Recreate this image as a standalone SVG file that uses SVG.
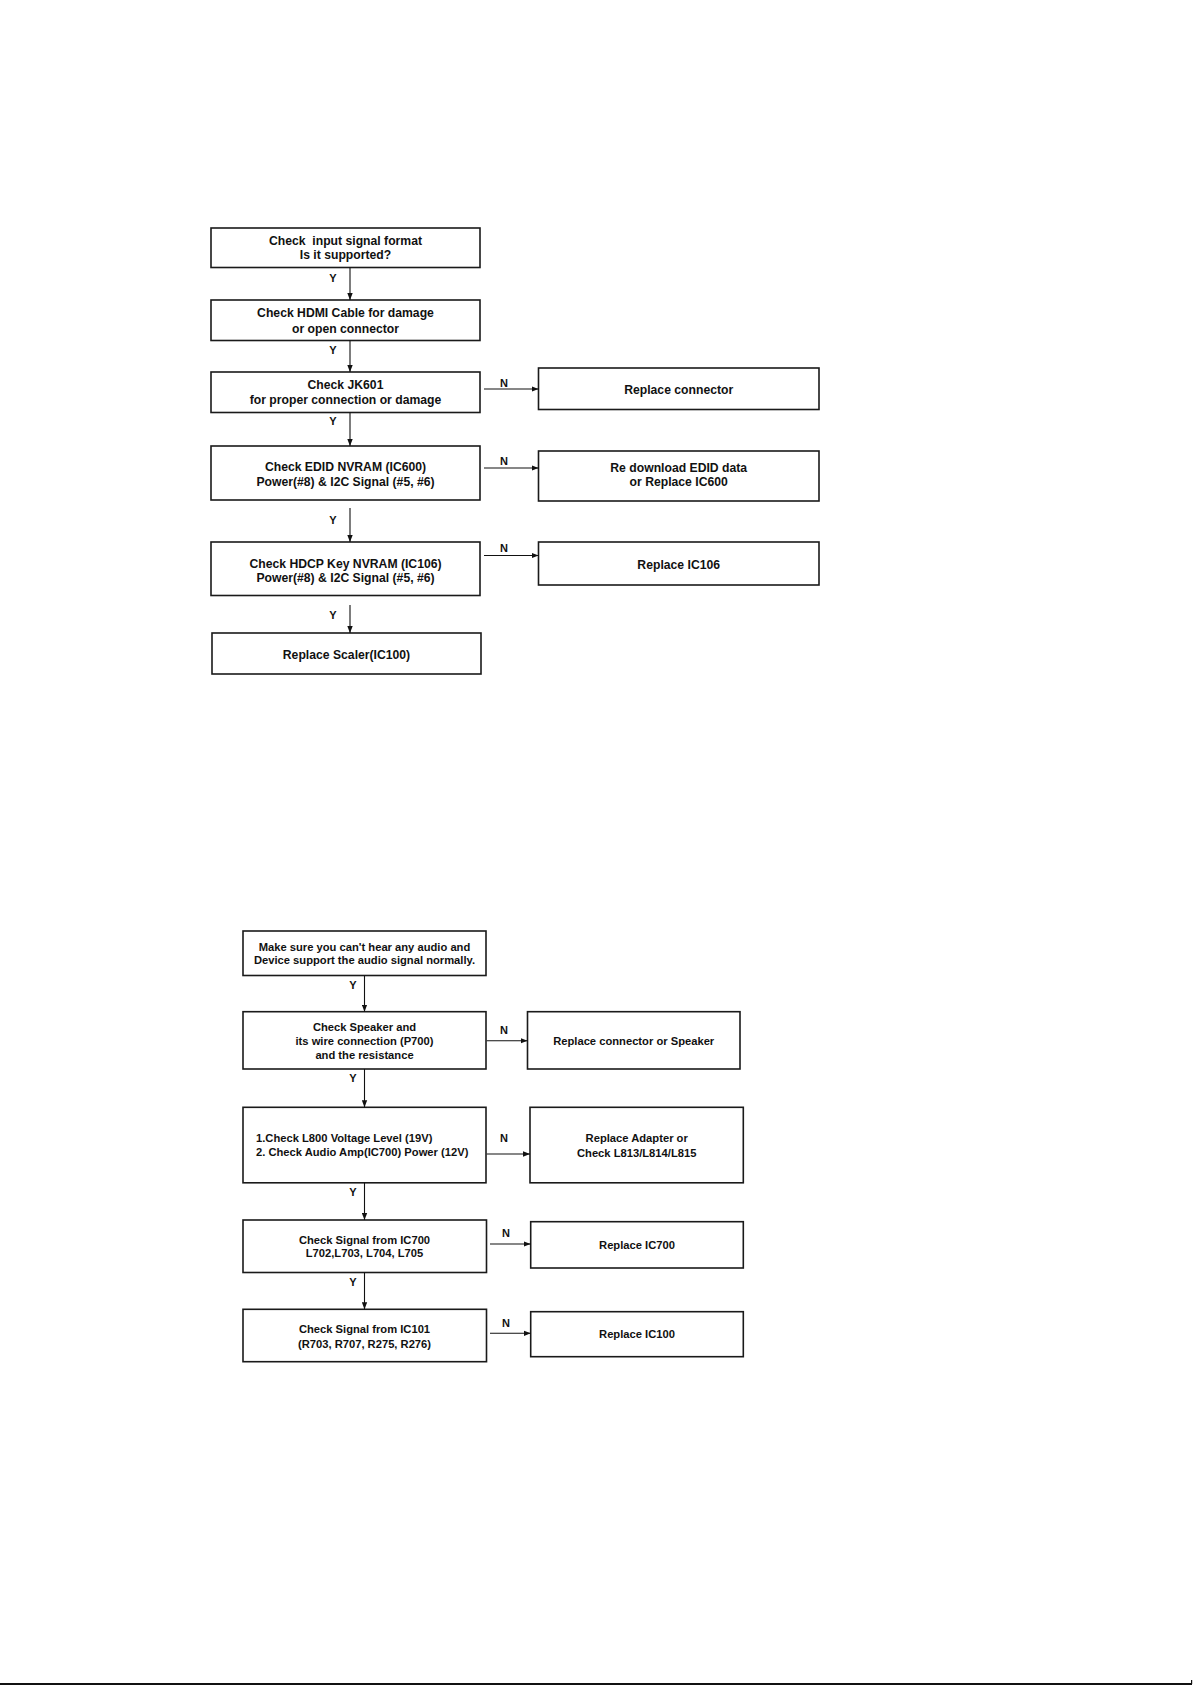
<svg xmlns="http://www.w3.org/2000/svg" width="1193" height="1685" viewBox="0 0 1193 1685">
<style>
.box{fill:#fff;stroke:#1a1a1a;stroke-width:1.6}
.t{font-family:"Liberation Sans",Arial,sans-serif;font-weight:bold;fill:#111;text-anchor:middle}
.top{font-size:12.2px}
.bot{font-size:11.2px}
.lbl{font-family:"Liberation Sans",Arial,sans-serif;font-weight:bold;font-size:11px;fill:#111;text-anchor:middle}
.c{stroke:#111;stroke-width:1.1;fill:none;marker-end:url(#ah)}
</style>
<defs>
<marker id="ah" markerUnits="userSpaceOnUse" markerWidth="8" markerHeight="6" refX="7" refY="3" orient="auto">
<path d="M0,0.3 L7,3 L0,5.7 Z" fill="#111"/>
</marker>
</defs>
<rect x="0" y="0" width="1193" height="1685" fill="#fff"/>

<g id="top-nodes">
<g id="n1"><rect class="box" x="211" y="228" width="269" height="39.5"/>
<text class="t top" x="345.5" y="245">Check &#160;input signal format</text>
<text class="t top" x="345.5" y="258.5">Is it supported?</text></g>
<g id="n2"><rect class="box" x="211" y="300" width="269" height="40.5"/>
<text class="t top" x="345.5" y="317">Check HDMI Cable for damage</text>
<text class="t top" x="345.5" y="332.5">or open connector</text></g>
<g id="n3"><rect class="box" x="211" y="372" width="269" height="40.5"/>
<text class="t top" x="345.5" y="389.3">Check JK601</text>
<text class="t top" x="345.5" y="404.3">for proper connection or damage</text></g>
<g id="n4"><rect class="box" x="211" y="446" width="269" height="54"/>
<text class="t top" x="345.5" y="471">Check EDID NVRAM (IC600)</text>
<text class="t top" x="345.5" y="486">Power(#8) &amp; I2C Signal (#5, #6)</text></g>
<g id="n5"><rect class="box" x="211" y="542" width="269" height="53.5"/>
<text class="t top" x="345.5" y="567.6">Check HDCP Key NVRAM (IC106)</text>
<text class="t top" x="345.5" y="581.6">Power(#8) &amp; I2C Signal (#5, #6)</text></g>
<g id="n6"><rect class="box" x="212" y="633" width="269" height="41"/>
<text class="t top" x="346.5" y="659">Replace Scaler(IC100)</text></g>
<g id="r1"><rect class="box" x="538.5" y="368" width="280.5" height="41.5"/>
<text class="t top" x="678.7" y="393.6">Replace connector</text></g>
<g id="r2"><rect class="box" x="538.5" y="451" width="280.5" height="50"/>
<text class="t top" x="678.7" y="471.6">Re download EDID data</text>
<text class="t top" x="678.7" y="485.5">or Replace IC600</text></g>
<g id="r3"><rect class="box" x="538.5" y="542" width="280.5" height="43"/>
<text class="t top" x="678.7" y="569">Replace IC106</text></g>
</g>

<g id="bottom-nodes">
<g id="b1"><rect class="box" x="243" y="931" width="243" height="44.5"/>
<text class="t bot" x="364.5" y="950.5">Make sure you can't hear any audio and</text>
<text class="t bot" x="364.5" y="963.5">Device support the audio signal normally.</text></g>
<g id="b2"><rect class="box" x="243" y="1011.7" width="243" height="57.3"/>
<text class="t bot" x="364.5" y="1030.5">Check Speaker and</text>
<text class="t bot" x="364.5" y="1044.5">its wire connection (P700)</text>
<text class="t bot" x="364.5" y="1059">and the resistance</text></g>
<g id="b3"><rect class="box" x="243" y="1107.3" width="243" height="75.5"/>
<text class="t bot" x="256" y="1142.4" style="text-anchor:start">1.Check L800 Voltage Level (19V)</text>
<text class="t bot" x="256" y="1156.3" style="text-anchor:start">2. Check Audio Amp(IC700) Power (12V)</text></g>
<g id="b4"><rect class="box" x="243" y="1220" width="243.5" height="52.5"/>
<text class="t bot" x="364.5" y="1244">Check Signal from IC700</text>
<text class="t bot" x="364.5" y="1256.7">L702,L703, L704, L705</text></g>
<g id="b5"><rect class="box" x="243" y="1309.3" width="243.5" height="52.4"/>
<text class="t bot" x="364.5" y="1333.3">Check Signal from IC101</text>
<text class="t bot" x="364.5" y="1348">(R703, R707, R275, R276)</text></g>
<g id="s1"><rect class="box" x="527.5" y="1011.7" width="212.5" height="57.3"/>
<text class="t bot" x="633.7" y="1045.2">Replace connector or Speaker</text></g>
<g id="s2"><rect class="box" x="530" y="1107.3" width="213.3" height="75.5"/>
<text class="t bot" x="636.7" y="1142.3">Replace Adapter or</text>
<text class="t bot" x="636.7" y="1157.3">Check L813/L814/L815</text></g>
<g id="s3"><rect class="box" x="530.7" y="1221.7" width="212.6" height="46.3"/>
<text class="t bot" x="637" y="1249">Replace IC700</text></g>
<g id="s4"><rect class="box" x="530.7" y="1311.7" width="212.6" height="45"/>
<text class="t bot" x="637" y="1338.3">Replace IC100</text></g>
</g>

<g id="connectors">
<line class="c" x1="350" y1="267.5" x2="350" y2="300"/>
<line class="c" x1="350" y1="340.5" x2="350" y2="372"/>
<line class="c" x1="350" y1="412.5" x2="350" y2="446"/>
<line class="c" x1="350" y1="508" x2="350" y2="542"/>
<line class="c" x1="350" y1="605" x2="350" y2="633"/>
<line class="c" x1="484" y1="389" x2="538.5" y2="389"/>
<line class="c" x1="484" y1="468" x2="538.5" y2="468"/>
<line class="c" x1="484" y1="555.5" x2="538.5" y2="555.5"/>
<line class="c" x1="364.5" y1="975.5" x2="364.5" y2="1011.7"/>
<line class="c" x1="364.5" y1="1069" x2="364.5" y2="1107.3"/>
<line class="c" x1="364.5" y1="1182.8" x2="364.5" y2="1220"/>
<line class="c" x1="364.5" y1="1272.5" x2="364.5" y2="1309.3"/>
<line class="c" x1="486.7" y1="1040.7" x2="527.5" y2="1040.7"/>
<line class="c" x1="486.7" y1="1154" x2="530" y2="1154"/>
<line class="c" x1="490" y1="1244" x2="530.7" y2="1244"/>
<line class="c" x1="490" y1="1333.3" x2="530.7" y2="1333.3"/>
<text class="lbl" x="333" y="282">Y</text>
<text class="lbl" x="333" y="353.5">Y</text>
<text class="lbl" x="333" y="424.5">Y</text>
<text class="lbl" x="333" y="523.6">Y</text>
<text class="lbl" x="333" y="618.6">Y</text>
<text class="lbl" x="504" y="387">N</text>
<text class="lbl" x="504" y="465">N</text>
<text class="lbl" x="504" y="551.5">N</text>
<text class="lbl" x="353" y="988.5">Y</text>
<text class="lbl" x="353" y="1082">Y</text>
<text class="lbl" x="353" y="1196">Y</text>
<text class="lbl" x="353" y="1286">Y</text>
<text class="lbl" x="504" y="1034">N</text>
<text class="lbl" x="504" y="1142">N</text>
<text class="lbl" x="506" y="1237">N</text>
<text class="lbl" x="506" y="1327">N</text>
</g>

<rect x="0" y="1683" width="1192" height="2" fill="#111"/>
<rect x="1191" y="1680" width="1.2" height="4" fill="#111"/>
</svg>
